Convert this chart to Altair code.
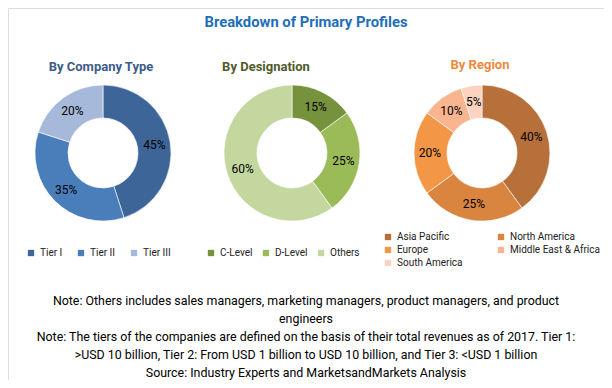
import altair as alt
import pandas as pd

# ---------------- data ----------------
company_cats = ["Tier I", "Tier II", "Tier III"]
company_vals = [45, 35, 20]
company_colors = ["#3D6598", "#4A7EBB", "#A6B9DB"]

desig_cats = ["C-Level", "D-Level", "Others"]
desig_vals = [15, 25, 60]
desig_colors = ["#76923C", "#9BBB59", "#C4D79F"]

region_cats = ["Asia Pacific", "North America", "Europe", "Middle East & Africa", "South America"]
region_vals = [40, 25, 20, 10, 5]
region_colors = ["#B8703A", "#D9843F", "#F39645", "#F8B590", "#FBD3C0"]

main_title = "Breakdown of Primary Profiles"
subtitles = ["By Company Type", "By Designation", "By Region"]
subtitle_colors = ["#3D5C8A", "#4F5A2B", "#F08A3C"]
notes = [
    "Note: Others includes sales managers, marketing managers, product managers, and product",
    "engineers",
    "Note: The tiers of the companies are defined on the basis of their total revenues as of 2017. Tier 1:",
    ">USD 10 billion, Tier 2: From USD 1 billion to USD 10 billion, and Tier 3: <USD 1 billion",
    "Source: Industry Experts and MarketsandMarkets Analysis",
]

# ---------------- layout ----------------
FONT = "Roboto"
OX, OY = 8, 8          # page margin -> view origin
W, H = 596, 372
R_OUT, R_IN, R_LAB = 68, 35, 52
CY = 153
CX = [103, 292, 482]


def text_layer(txt, x, y, size, color, weight="normal"):
    return alt.Chart(pd.DataFrame({"t": [txt]})).mark_text(
        font=FONT, fontSize=size, color=color, fontWeight=weight,
        align="center", baseline="middle"
    ).encode(text="t:N", x=alt.value(x - OX), y=alt.value(y - OY))


def donut(cats, vals, colors, cx, legend):
    df = pd.DataFrame({
        "cat": cats,
        "value": vals,
        "order": list(range(len(cats))),
        "label": [f"{v}%" for v in vals],
    })
    base = alt.Chart(df).encode(
        theta=alt.Theta("value:Q", stack=True),
        order=alt.Order("order:Q"),
        x=alt.value(cx - OX),
        y=alt.value(CY - OY),
    )
    arc = base.mark_arc(outerRadius=R_OUT, innerRadius=R_IN,
                        stroke="white", strokeWidth=0.6).encode(
        color=alt.Color("cat:N", scale=alt.Scale(domain=cats, range=colors),
                        sort=cats, legend=legend)
    )
    lab = base.mark_text(radius=R_LAB, font=FONT, fontSize=12, color="#000000").encode(
        text="label:N"
    )
    return [arc, lab]


def legend(x, y, cols, colpad):
    return alt.Legend(
        orient="none", legendX=x - OX, legendY=y - OY, title=None,
        direction="horizontal", columns=cols, columnPadding=colpad, rowPadding=3,
        symbolType="square", symbolSize=40, symbolStrokeWidth=0,
        labelFont=FONT, labelFontSize=10, labelColor="#222222", labelOffset=4,
        labelLimit=200,
    )


layers = []
layers += donut(company_cats, company_vals, company_colors, CX[0], legend(26, 248, 3, 13))
layers += donut(desig_cats, desig_vals, desig_colors, CX[1], legend(206, 248, 3, 8))
layers += donut(region_cats, region_vals, region_colors, CX[2], legend(383, 232, 2, 33))

layers.append(text_layer(main_title, 306, 23, 14.8, "#1E6FB8", "bold"))
layers.append(text_layer(subtitles[0], 101, 67, 13, subtitle_colors[0], "bold"))
layers.append(text_layer(subtitles[1], 266, 67, 13, subtitle_colors[1], "bold"))
layers.append(text_layer(subtitles[2], 480, 65, 13, subtitle_colors[2], "bold"))

note_y = [301, 319, 337, 355, 373]
for t, yy in zip(notes, note_y):
    layers.append(text_layer(t, 306, yy, 12.4, "#000000"))

chart = alt.layer(*layers).resolve_scale(color="independent").properties(
    width=W, height=H,
    autosize=alt.AutoSizeParams(type="fit", contains="padding"),
    padding=0,
).configure_view(stroke="#000000", strokeWidth=1.5).configure(background="white")

chart.save("out.html", embed_options={"renderer": "svg", "actions": False})
